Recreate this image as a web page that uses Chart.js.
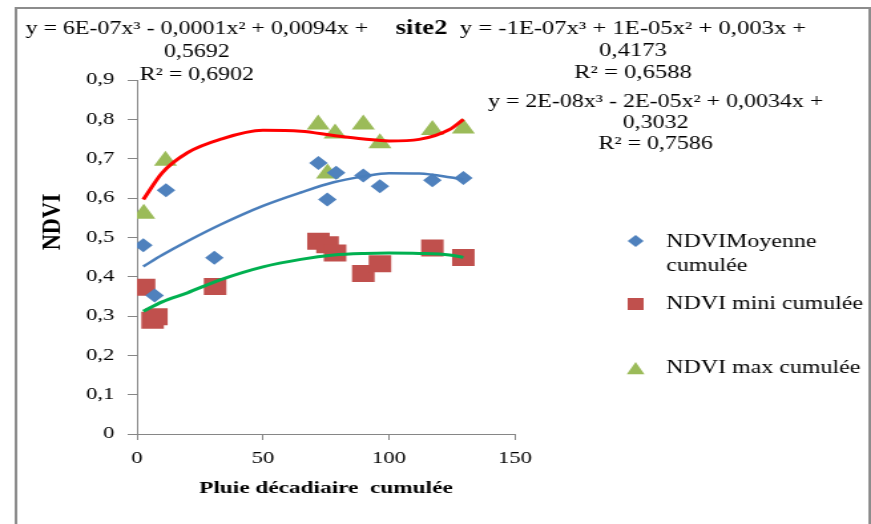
<!DOCTYPE html>
<html>
<head>
<meta charset="utf-8">
<script src="https://cdn.jsdelivr.net/npm/chart.js@4/dist/chart.umd.min.js"></script>
<style>
  html, body { margin: 0; padding: 0; background: #fff; overflow: hidden; }
  /* the chart is laid out narrow and widened to the page width */
  #wrap { width: 655px; height: 524px; transform: scaleX(1.3298); transform-origin: 0 0; }
  canvas { display: block; }
</style>
</head>
<body>
<div id="wrap"><canvas id="ndviChart" width="655" height="524"></canvas></div>
<script>
// cumulated decadal rainfall (x) and NDVI values per series
const pluieMoy = [2.5, 7, 11.5, 30.7, 72, 75.5, 79, 89.8, 96.4, 117.2, 129.5];
const ndviMoy = [0.48, 0.352, 0.62, 0.448, 0.689, 0.596, 0.664, 0.657, 0.63, 0.645, 0.651];

const pluieMini = [2.8, 6.2, 7.7, 31, 72, 75.6, 78.6, 89.8, 96.4, 117.2, 129.5];
const ndviMini = [0.373, 0.289, 0.298, 0.375, 0.49, 0.481, 0.46, 0.408, 0.433, 0.473, 0.449];

const pluieMax = [2.7, 11.3, 71.9, 75.6, 78.6, 89.8, 96.4, 117.2, 129.5];
const ndviMax = [0.56, 0.695, 0.787, 0.662, 0.764, 0.787, 0.739, 0.773, 0.777];

// polynomial trend curves (order 3), sampled along x
const trendX = [2.5, 10, 20, 33, 50, 65, 78, 90, 100, 112, 124, 129.5];
const trendMax = [0.596, 0.664, 0.715, 0.749, 0.772, 0.77, 0.759, 0.75, 0.745, 0.749, 0.774, 0.8];
const trendMoy = [0.426, 0.455, 0.49, 0.532, 0.58, 0.614, 0.64, 0.655, 0.663, 0.662, 0.653, 0.647];
const trendMini = [0.312, 0.336, 0.359, 0.392, 0.425, 0.444, 0.455, 0.459, 0.46, 0.459, 0.455, 0.449];

const xTicks = [0, 50, 100, 150];
const yTicks = [0, 0.1, 0.2, 0.3, 0.4, 0.5, 0.6, 0.7, 0.8, 0.9];

const legendLabels = [['NDVIMoyenne', 'cumulée'], ['NDVI mini cumulée'], ['NDVI max cumulée']];
const eqMax = ['y = 6E-07x³ - 0,0001x² + 0,0094x +', '0,5692', 'R² = 0,6902'];
const eqMoy = ['y = -1E-07x³ + 1E-05x² + 0,003x +', '0,4173', 'R² = 0,6588'];
const eqMini = ['y = 2E-08x³ - 2E-05x² + 0,0034x +', '0,3032', 'R² = 0,7586'];

const BLUE = '#4F81BD';
const RED = '#C0504D';
const GREEN = '#9BBB59';
const SERIF = '"Liberation Serif", "Times New Roman", serif';

const pts = (xs, ys) => xs.map((x, i) => ({ x: x, y: ys[i] }));

const trend = (ys, color, width) => ({
  type: 'line',
  data: pts(trendX, ys),
  borderColor: color,
  borderWidth: width,
  pointRadius: 0,
  fill: false,
  cubicInterpolationMode: 'monotone'
});

function marker(ctx, style, x, y, s, color) {
  ctx.save();
  ctx.fillStyle = color;
  ctx.beginPath();
  if (style === 'diamond') {
    ctx.moveTo(x, y - s); ctx.lineTo(x + s, y); ctx.lineTo(x, y + s); ctx.lineTo(x - s, y);
  } else if (style === 'square') {
    ctx.rect(x - s, y - s, 2 * s, 2 * s);
  } else {
    ctx.moveTo(x, y - s); ctx.lineTo(x + s * 0.95, y + s * 0.75); ctx.lineTo(x - s * 0.95, y + s * 0.75);
  }
  ctx.closePath();
  ctx.fill();
  ctx.restore();
}

const decorations = {
  id: 'decorations',
  afterDraw(chart) {
    const ctx = chart.ctx;
    ctx.save();

    // outer frame
    ctx.strokeStyle = '#8c8c8c';
    ctx.lineWidth = 2;
    ctx.beginPath();
    ctx.moveTo(12, 540); ctx.lineTo(12, 8); ctx.lineTo(654, 8); ctx.lineTo(654, 540);
    ctx.stroke();

    ctx.fillStyle = '#000';
    ctx.textBaseline = 'middle';
    ctx.textAlign = 'center';

    ctx.font = '18px ' + SERIF;
    eqMax.forEach((t, i) => ctx.fillText(t, 148, 29 + i * 23));
    eqMini.forEach((t, i) => ctx.fillText(t, 493, 102 + i * 21));
    ctx.font = '18.5px ' + SERIF;
    eqMoy.forEach((t, i) => ctx.fillText(t, 476, 29 + i * 22));

    ctx.font = 'bold 20px ' + SERIF;
    ctx.fillText('site2', 317, 29);

    // y axis title
    ctx.save();
    ctx.translate(40, 222);
    ctx.rotate(-Math.PI / 2);
    ctx.scale(1.2, 1);
    ctx.font = 'bold 18.5px ' + SERIF;
    ctx.fillText('NDVI', 0, 0);
    ctx.restore();

    // legend
    ctx.textAlign = 'left';
    ctx.font = '18px ' + SERIF;
    marker(ctx, 'diamond', 478, 241, 6, BLUE);
    ctx.fillText(legendLabels[0][0], 501, 242);
    ctx.fillText(legendLabels[0][1], 501, 266);
    marker(ctx, 'square', 478, 304, 6, RED);
    ctx.fillText(legendLabels[1][0], 501, 304);
    marker(ctx, 'triangle', 478, 369, 7, GREEN);
    ctx.fillText(legendLabels[2][0], 501, 368);

    ctx.restore();
  }
};

const fmt = v => v === 0 ? '0' : v.toFixed(1).replace('.', ',');

new Chart(document.getElementById('ndviChart'), {
  type: 'scatter',
  data: {
    datasets: [
      trend(trendMoy, '#4A7EBB', 2.5),
      trend(trendMini, '#00B050', 3),
      trend(trendMax, '#FF0000', 3),
      {
        label: 'NDVIMoyenne cumulée',
        data: pts(pluieMoy, ndviMoy),
        pointStyle: 'rectRot',
        pointRadius: 7,
        backgroundColor: BLUE,
        borderWidth: 0
      },
      {
        label: 'NDVI mini cumulée',
        data: pts(pluieMini, ndviMini),
        pointStyle: 'rect',
        pointRadius: 12,
        backgroundColor: RED,
        borderWidth: 0
      },
      {
        label: 'NDVI max cumulée',
        data: pts(pluieMax, ndviMax),
        pointStyle: 'triangle',
        pointRadius: 10,
        backgroundColor: GREEN,
        borderWidth: 0
      }
    ]
  },
  options: {
    responsive: false,
    animation: false,
    events: [],
    layout: { padding: { top: 80, right: 267.7, left: 0, bottom: 0 } },
    plugins: {
      legend: { display: false },
      tooltip: { enabled: false }
    },
    scales: {
      x: {
        type: 'linear',
        min: 0,
        max: 150,
        afterFit: s => { s.height = 90; },
        afterBuildTicks: s => { s.ticks = xTicks.map(v => ({ value: v })); },
        ticks: { color: '#000', font: { family: SERIF, size: 17 }, padding: 8 },
        grid: { drawOnChartArea: false, tickLength: 6, color: '#868686' },
        border: { color: '#868686' },
        title: {
          display: true,
          text: 'Pluie décadiaire  cumulée',
          color: '#000',
          font: { family: SERIF, size: 17.5, weight: 'bold' },
          padding: { top: 0, bottom: 25 }
        }
      },
      y: {
        min: 0,
        max: 0.9,
        afterFit: s => { s.width = 103; },
        afterBuildTicks: s => { s.ticks = yTicks.map(v => ({ value: v })); },
        ticks: { color: '#000', font: { family: SERIF, size: 17 }, padding: 10, callback: fmt },
        grid: { drawOnChartArea: false, tickLength: 7, color: '#868686' },
        border: { color: '#868686' }
      }
    }
  },
  plugins: [decorations]
});
</script>
</body>
</html>
